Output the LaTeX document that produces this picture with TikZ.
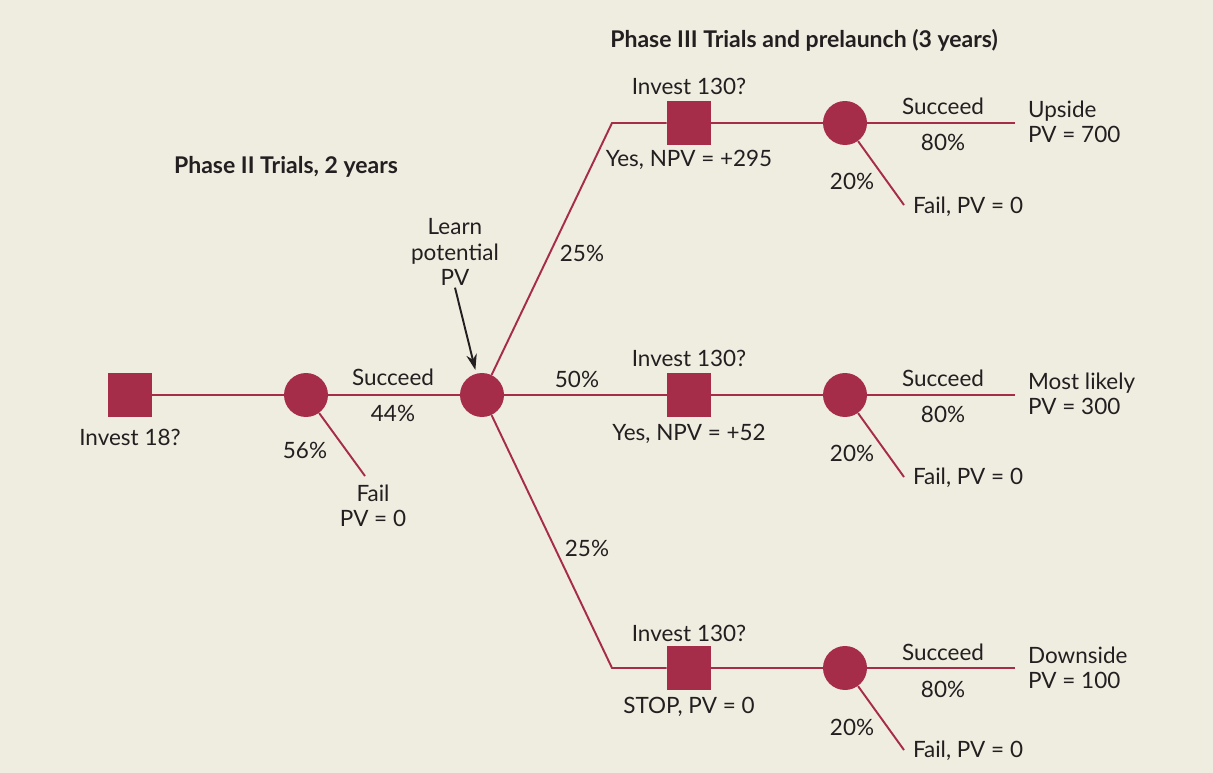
\documentclass[tikz,border=0pt]{standalone}
\usepackage{fontspec}
\setmainfont{Lato}
\usetikzlibrary{positioning,arrows.meta}
\definecolor{TreeRed}{HTML}{A62D49}
\definecolor{InkGray}{HTML}{231F20}
\definecolor{PaperBeige}{HTML}{EFECE0}
\tikzset{
  decnode/.style={rectangle,fill=TreeRed,minimum size=0.88cm,inner sep=0pt},
  chnode/.style={circle,fill=TreeRed,minimum size=0.88cm,inner sep=0pt},
  lbl/.style={font=\fontsize{12.8}{14.5}\selectfont\color{InkGray},align=center,inner sep=1pt},
  lblL/.style={lbl,align=left,anchor=west},
  headlbl/.style={font=\fontsize{13.1}{15}\selectfont\bfseries\color{InkGray},inner sep=1pt},
  branch/.style={line width=1.1pt,draw=TreeRed},
  pointer/.style={line width=1.1pt,draw=InkGray,-{Stealth[length=9pt,width=6pt]},shorten >=2pt},
}
\begin{document}
\begin{tikzpicture}[x=0.02cm,y=-0.02cm]
  \fill[PaperBeige] (0,0) rectangle (1213,773);
  \useasboundingbox (0,0) rectangle (1213,773);
  % phase II
  \node[decnode] (sq0) at (130,395) {};
  \node[chnode] (ch1) at (306,395) {};
  \node[chnode] (ch2) at (482,395) {};
  \coordinate (f1) at (365,476);
  % phase III rows
  \coordinate (kU) at (612,123);
  \coordinate (kD) at (612,668);
  \node[decnode] (sqU) at (689,123) {};
  \node[decnode] (sqM) at (689,395) {};
  \node[decnode] (sqD) at (689,668) {};
  \node[chnode] (chU) at (845,123) {};
  \node[chnode] (chM) at (845,395) {};
  \node[chnode] (chD) at (845,668) {};
  \coordinate (eU) at (1015,123);
  \coordinate (eM) at (1015,395);
  \coordinate (eD) at (1015,668);
  \coordinate (fU) at (904,205);
  \coordinate (fM) at (904,477);
  \coordinate (fD) at (904,750);
  \draw[branch] (sq0) -- (ch1);
  \draw[branch] (ch1) -- (ch2);
  \draw[branch] (ch1) -- (f1);
  \draw[branch] (ch2) -- (kU) -- (sqU);
  \draw[branch] (ch2) -- (sqM);
  \draw[branch] (ch2) -- (kD) -- (sqD);
  \draw[branch] (sqU) -- (chU);
  \draw[branch] (sqM) -- (chM);
  \draw[branch] (sqD) -- (chD);
  \draw[branch] (chU) -- (eU);
  \draw[branch] (chM) -- (eM);
  \draw[branch] (chD) -- (eD);
  \draw[branch] (chU) -- (fU);
  \draw[branch] (chM) -- (fM);
  \draw[branch] (chD) -- (fD);
  % labels
  \node[headlbl] (hd2) at (286,167) {Phase II Trials, 2 years};
  \node[headlbl] (hd3) at (804,40) {Phase III Trials and prelaunch (3 years)};
  \node[lbl] (inv18) at (130,437) {Invest 18?};
  \node[lbl] (succ1) at (393,377) {Succeed};
  \node[lbl] (p44) at (393,413) {44\%};
  \node[lbl] (p56) at (305,450) {56\%};
  \node[lbl] (fail1) at (373,506) {Fail\\PV = 0};
  \node[lbl] (learn) at (455,252) {Learn\\potential\\PV};
  \draw[pointer] (learn.south) -- (ch2.105);
  \node[lbl] (pU) at (582,253) {25\%};
  \node[lbl] (pM) at (577,379) {50\%};
  \node[lbl] (pD) at (587,548) {25\%};
  % upside row
  \node[lbl] (invU) at (689,86) {Invest 130?};
  \node[lbl] (npvU) at (689,160) {Yes, NPV = +295};
  \node[lbl] (succU) at (943,106) {Succeed};
  \node[lbl] (p80U) at (943,142) {80\%};
  \node[lbl] (p20U) at (852,181) {20\%};
  \node[lbl] (failU) at (968,207) {Fail, PV = 0};
  \node[lblL] (outU) at (1026,122) {Upside\\PV = 700};
  % most likely row
  \node[lbl] (invM) at (689,358) {Invest 130?};
  \node[lbl] (npvM) at (689,434) {Yes, NPV = +52};
  \node[lbl] (succM) at (943,378) {Succeed};
  \node[lbl] (p80M) at (943,414) {80\%};
  \node[lbl] (p20M) at (852,453) {20\%};
  \node[lbl] (failM) at (968,478) {Fail, PV = 0};
  \node[lblL] (outM) at (1026,394) {Most likely\\PV = 300};
  % downside row
  \node[lbl] (invD) at (689,633) {Invest 130?};
  \node[lbl] (stopD) at (689,707) {STOP, PV = 0};
  \node[lbl] (succD) at (943,652) {Succeed};
  \node[lbl] (p80D) at (943,689) {80\%};
  \node[lbl] (p20D) at (852,727) {20\%};
  \node[lbl] (failD) at (968,751) {Fail, PV = 0};
  \node[lblL] (outD) at (1026,668) {Downside\\PV = 100};
\end{tikzpicture}
\end{document}
